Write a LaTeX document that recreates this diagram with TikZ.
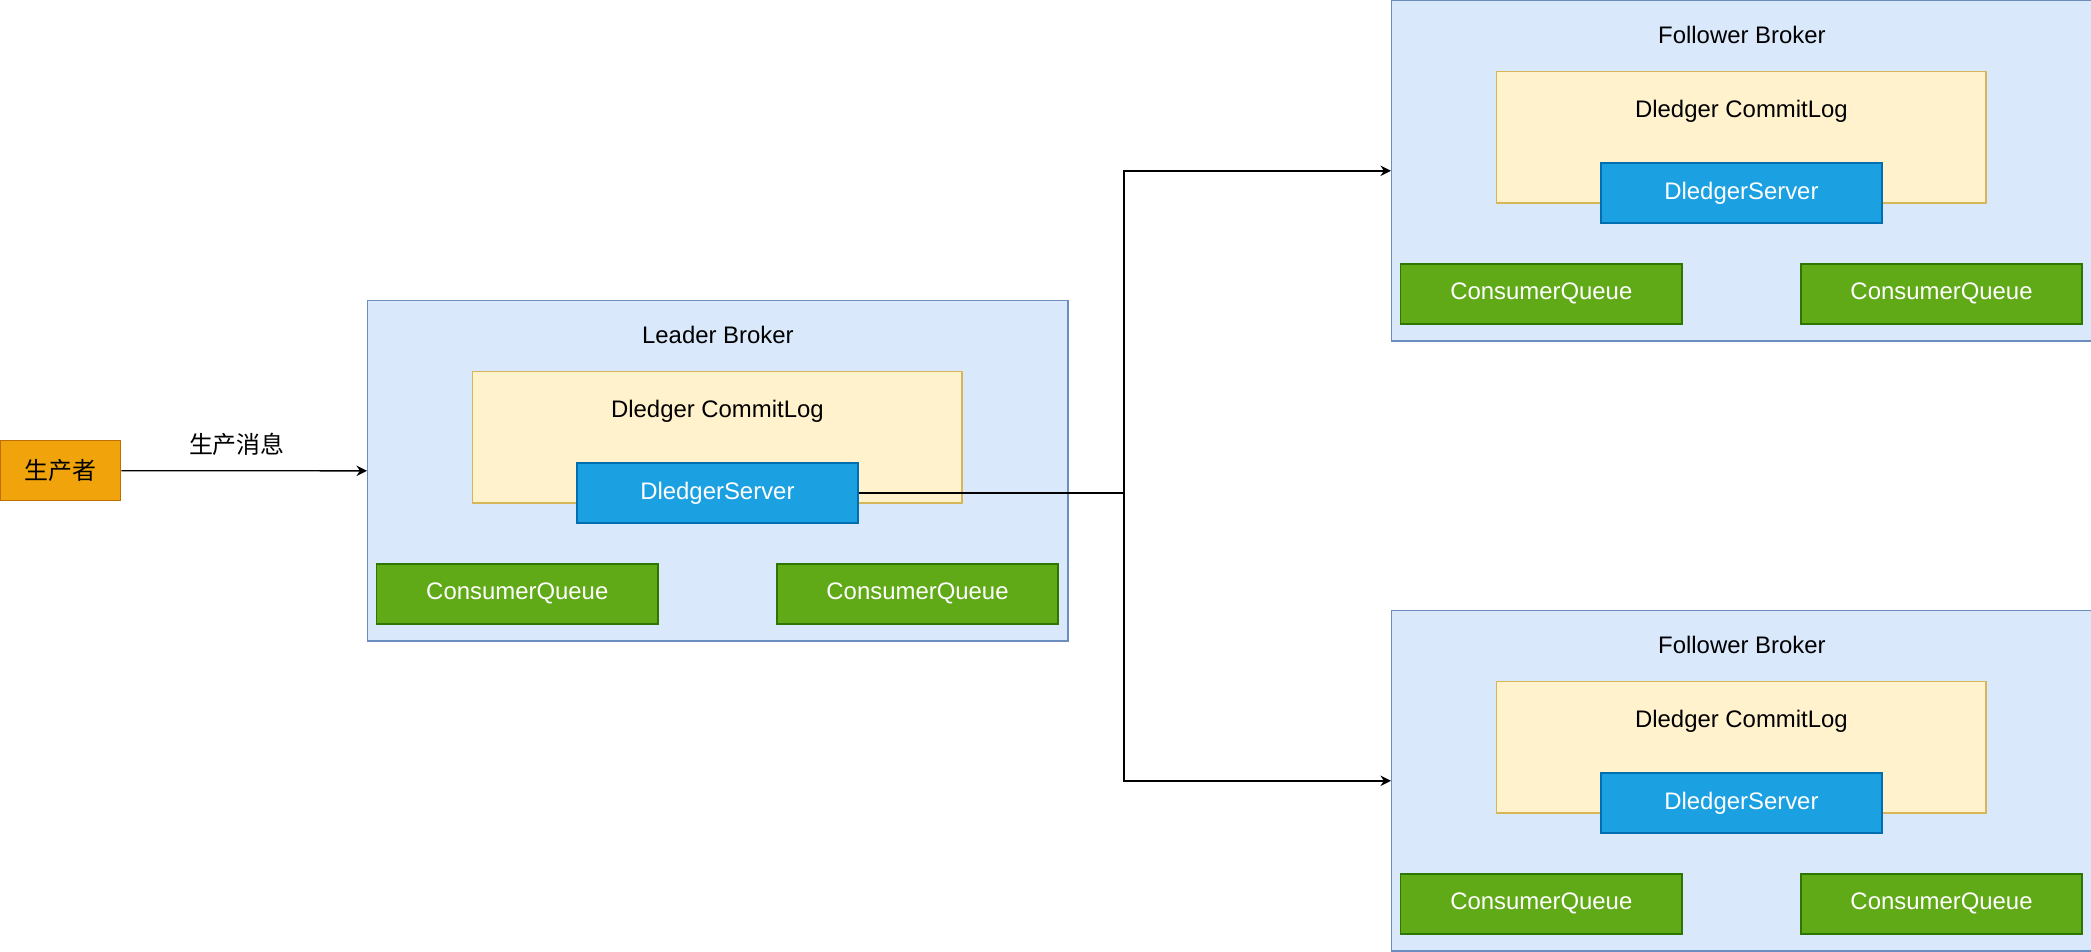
\documentclass[tikz,border=0pt]{standalone}
\usepackage{fontspec}
\setmainfont{Liberation Sans}
\newfontfamily\cjk{Noto Sans CJK SC}
\usepackage{tikz}
\usetikzlibrary{positioning, arrows.meta}
\definecolor{brokerfill}{HTML}{DAE8FC}
\definecolor{brokerline}{HTML}{6C8EBF}
\definecolor{logfill}{HTML}{FFF2CC}
\definecolor{logline}{HTML}{D6B656}
\definecolor{serverfill}{HTML}{1BA1E2}
\definecolor{serverline}{HTML}{006EAF}
\definecolor{queuefill}{HTML}{60A917}
\definecolor{queueline}{HTML}{2D7600}
\definecolor{producerfill}{HTML}{F0A30A}
\definecolor{producerline}{HTML}{BD7000}
\tikzset{
    broker_style/.style={
        rectangle,                  % 外框
        draw=brokerline,
        fill=brokerfill,
        line width=0.4pt,
        minimum width=7cm,
        minimum height=3.4cm,
        anchor=north west
    },
    log_style/.style={
        rectangle,
        draw=logline,
        fill=logfill,
        line width=0.4pt,
        minimum width=4.89cm,
        minimum height=1.31cm
    },
    box_style/.style={
        rectangle,
        line width=0.4pt,
        minimum width=2.81cm,
        minimum height=0.6cm,
        text=white,
        font=\fontsize{6.8}{8}\selectfont
    },
    server_style/.style={box_style, draw=serverline, fill=serverfill},
    queue_style/.style={box_style, draw=queueline, fill=queuefill},
    producer_style/.style={
        rectangle,
        draw=producerline,
        fill=producerfill,
        line width=0.4pt,
        minimum width=1.2cm,
        minimum height=0.6cm,
        font=\cjk\fontsize{6.8}{8}\selectfont
    },
    title_style/.style={
        inner sep=0pt,
        font=\fontsize{6.8}{8}\selectfont
    },
    arrow_style/.style={
        -{Stealth[length=3pt, width=3pt]},
        line width=0.4pt
    }
}

\begin{document}
\begin{tikzpicture}[x=0.01cm, y=-0.01cm]
    \useasboundingbox (0,0) rectangle (2091,951);

    % 1. 三个 Broker
    \node[broker_style] (L) at (367,300) {};
    \node[broker_style] (F1) at (1391,0) {};
    \node[broker_style] (F2) at (1391,610) {};

    % 2. Leader 内部
    \node[title_style, yshift=-0.35cm] (Lt) at (L.north) {Leader Broker};
    \node[log_style, below right=0.71cm and 1.05cm of L.north west] (Lg) {};
    \node[title_style, yshift=-0.4cm] (Lgt) at (Lg.north) {Dledger CommitLog};
    \node[server_style, below right=1.62cm and 2.09cm of L.north west] (Ls) {DledgerServer};
    \node[queue_style, below right=2.63cm and 0.09cm of L.north west] (Lq1) {ConsumerQueue};
    \node[queue_style, below right=2.63cm and 4.09cm of L.north west] (Lq2) {ConsumerQueue};

    % 3. Follower 1 内部
    \node[title_style, yshift=-0.35cm] (F1t) at (F1.north) {Follower Broker};
    \node[log_style, below right=0.71cm and 1.05cm of F1.north west] (F1g) {};
    \node[title_style, yshift=-0.4cm] (F1gt) at (F1g.north) {Dledger CommitLog};
    \node[server_style, below right=1.62cm and 2.09cm of F1.north west] (F1s) {DledgerServer};
    \node[queue_style, below right=2.63cm and 0.09cm of F1.north west] (F1q1) {ConsumerQueue};
    \node[queue_style, below right=2.63cm and 4.09cm of F1.north west] (F1q2) {ConsumerQueue};

    % 4. Follower 2 内部
    \node[title_style, yshift=-0.35cm] (F2t) at (F2.north) {Follower Broker};
    \node[log_style, below right=0.71cm and 1.05cm of F2.north west] (F2g) {};
    \node[title_style, yshift=-0.4cm] (F2gt) at (F2g.north) {Dledger CommitLog};
    \node[server_style, below right=1.62cm and 2.09cm of F2.north west] (F2s) {DledgerServer};
    \node[queue_style, below right=2.63cm and 0.09cm of F2.north west] (F2q1) {ConsumerQueue};
    \node[queue_style, below right=2.63cm and 4.09cm of F2.north west] (F2q2) {ConsumerQueue};

    % 5. 生产者
    \node[producer_style, anchor=north west] (P) at (0,440) {生产者};

    % 6. 连线
    \coordinate (split) at (1124,0);
    \draw[arrow_style] (P.east) -- node[title_style, font=\cjk\fontsize{6.8}{8}\selectfont, above=0.14cm, pos=0.47] (msg) {生产消息} (L.west);
    \draw[arrow_style] (Ls.east) -- (Ls.east -| split) |- (F1.west);
    \draw[arrow_style] (Ls.east) -- (Ls.east -| split) |- (F2.west);
\end{tikzpicture}
\end{document}
